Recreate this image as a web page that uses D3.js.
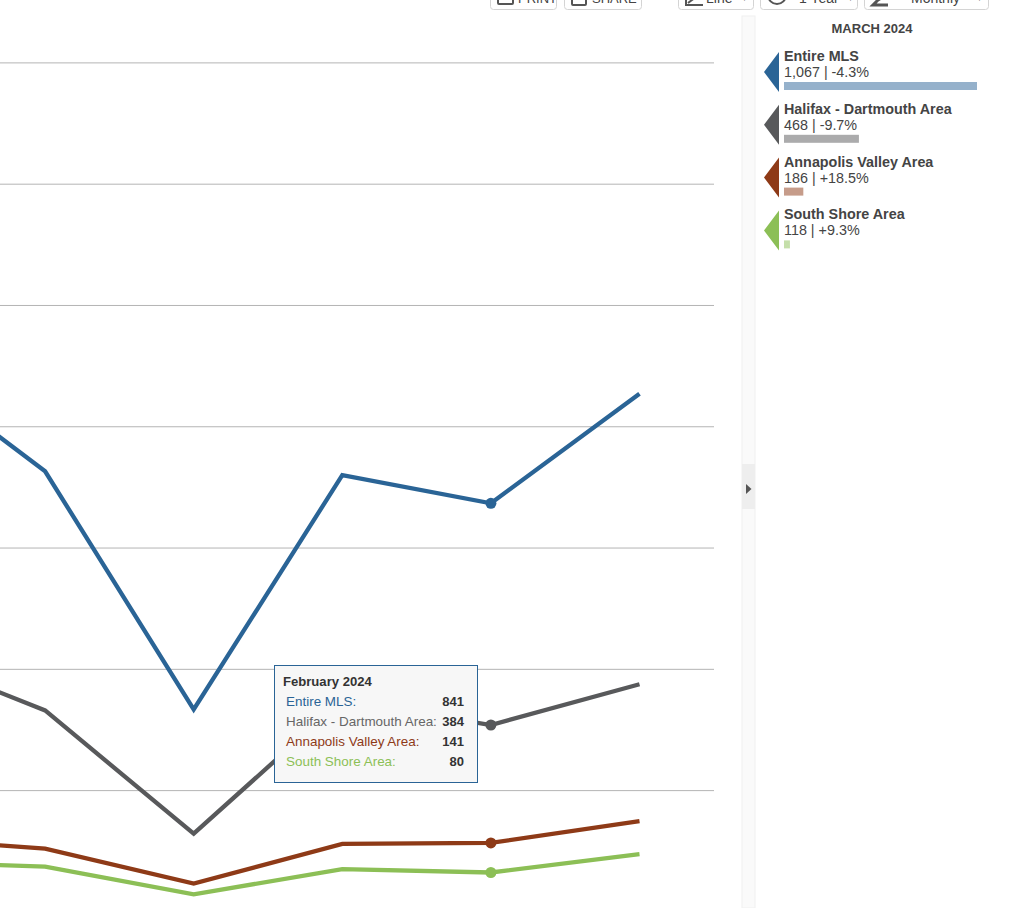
<!DOCTYPE html>
<html><head><meta charset="utf-8">
<script src="https://cdn.jsdelivr.net/npm/d3@7/dist/d3.min.js"></script>
<style>html,body{margin:0;padding:0;background:#fff;overflow:hidden}svg{display:block;font-family:"Liberation Sans",Arial,sans-serif}</style>
</head><body><div id="chart"></div>
<script>
const months = ["Oct 2023","Nov 2023","Dec 2023","Jan 2024","Feb 2024","Mar 2024"];
const seriesNames = ["Entire MLS","Halifax - Dartmouth Area","Annapolis Valley Area","South Shore Area"];
const entireMLS = [1138,907,416,899,841,1067];
const halifax = [536,414,160,435,384,468];
const annapolis = [152,129,57,139,141,186];
const southShore = [103,92,35,87,80,118];
const changes = ["-4.3%","-9.7%","+18.5%","+9.3%"];
const colors = ["#2a6496","#58595b","#8e3a17","#8cbf56"];
const barColors = ["#95b1cb","#ababac","#c69c8a","#c5dfaa"];
const gridTicks = [250,500,750,1000,1250,1500,1750];
const buttons = [["PRINT",490,557],["SHARE",564,642],["Line",678,754],["1 Year",760,858],["Monthly",864,989]];
const series = [entireMLS,halifax,annapolis,southShore];
const hoverIndex = 4, lastIndex = 5;

const svg = d3.select("#chart").append("svg").attr("width",1024).attr("height",908);
const x = d3.scalePoint().domain(months).range([-103.5,639.5]);
const y = d3.scaleLinear().domain([0,1750]).range([911.3,62.3]);
const barW = d3.scaleLinear().domain([88,1067]).range([0,193]);

// gridlines
const grid = svg.append("g").attr("transform","translate(0,0.1)").call(d3.axisLeft(y).tickValues(gridTicks).tickSize(-714).tickFormat(""));
grid.select(".domain").remove();
grid.selectAll("line").attr("stroke","#b4b4b4").attr("stroke-width",1);

// series lines
const line = d3.line().x((d,i)=>x(months[i])).y(d=>y(d));
series.forEach((s,k)=>{
  svg.append("path").datum(s).attr("d",line).attr("fill","none").attr("stroke",colors[k])
    .attr("stroke-width",4.3).attr("stroke-linejoin","miter");
  svg.append("circle").attr("cx",x(months[hoverIndex])).attr("cy",y(s[hoverIndex])).attr("r",5.5).attr("fill",colors[k]);
});

// tooltip
const tip = svg.append("g").attr("transform","translate(274,665)");
tip.append("rect").attr("x",.5).attr("y",.5).attr("width",203).attr("height",117).attr("fill","#f7f7f7").attr("stroke","#2a6496");
tip.append("text").attr("x",9).attr("y",21).attr("font-size",13.1).attr("font-weight","bold").attr("fill","#333").text("February 2024");
series.forEach((s,k)=>{
  const yy = 40.5 + k*20.2;
  tip.append("text").attr("x",12).attr("y",yy).attr("font-size",13.45).attr("fill",colors[k]==="#58595b"?"#666":colors[k]).text(seriesNames[k]+":");
  tip.append("text").attr("x",190).attr("y",yy).attr("font-size",13).attr("font-weight","bold").attr("text-anchor","end").attr("fill","#333").text(s[hoverIndex]);
});

// side panel divider
svg.append("rect").attr("x",742).attr("y",16).attr("width",13).attr("height",892).attr("fill","#fafafa").attr("stroke","#f0f0f0");
svg.append("rect").attr("x",742).attr("y",464).attr("width",13).attr("height",45).attr("fill","#eeeeee");
svg.append("path").attr("d","M746,484L751.5,489L746,494Z").attr("fill","#555");

// legend panel
svg.append("text").attr("x",872).attr("y",33).attr("text-anchor","middle").attr("font-size",13).attr("font-weight","bold").attr("fill","#444").text("MARCH 2024");
series.forEach((s,k)=>{
  const g = svg.append("g").attr("transform",`translate(0,${k*52.8})`);
  g.append("path").attr("d","M779,52L764,72L779,92Z").attr("fill",colors[k]);
  g.append("text").attr("x",784).attr("y",61).attr("font-size",14.35).attr("font-weight","bold").attr("fill","#444").text(seriesNames[k]);
  g.append("text").attr("x",784).attr("y",77).attr("font-size",14.35).attr("fill","#444").text(d3.format(",")(s[lastIndex])+" | "+changes[k]);
  g.append("rect").attr("x",784).attr("y",82).attr("width",barW(s[lastIndex])).attr("height",8).attr("fill",barColors[k]);
});

// toolbar buttons, clipped by the top of the page
buttons.forEach(([label,x0,x1])=>{
  svg.append("rect").attr("x",x0+.5).attr("y",-20).attr("width",x1-x0-1).attr("height",29.5).attr("rx",3)
    .attr("fill","#fff").attr("stroke","#d4d4d4");
});
const btnIcon = svg.append("g").attr("fill","none").attr("stroke","#555").attr("stroke-width",2);
btnIcon.append("rect").attr("x",498).attr("y",-6).attr("width",15).attr("height",10).attr("rx",1);
btnIcon.append("rect").attr("x",572).attr("y",-6).attr("width",14).attr("height",11).attr("rx",1);
btnIcon.append("path").attr("d","M686,-6V5H703");
btnIcon.append("path").attr("d","M688,3L700,-6");
btnIcon.append("circle").attr("cx",777).attr("cy",-5).attr("r",9);
btnIcon.append("path").attr("d","M888,-6L878,0L873,5H888").attr("stroke-width",3);
const lbl = [[518,"PRINT",13],[592,"SHARE",13],[706,"Line",14],[799,"1 Year",14],[911,"Monthly",14]];
lbl.forEach(([lx,t,fs])=>svg.append("text").attr("x",lx).attr("y",3).attr("font-size",fs).attr("fill","#444").text(t));
[[742,"▾"],[848,"▾"],[977,"▾"]].forEach(([lx,t])=>svg.append("text").attr("x",lx).attr("y",1).attr("font-size",10).attr("fill","#555").text(t));
</script></body></html>
